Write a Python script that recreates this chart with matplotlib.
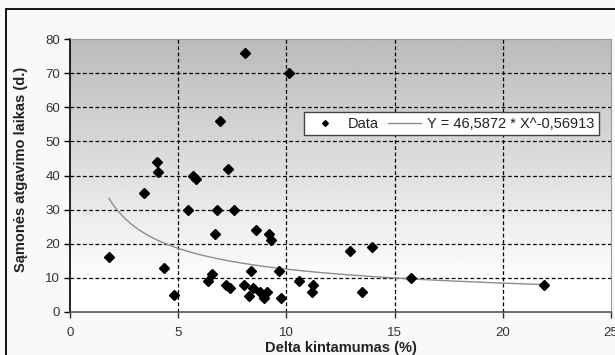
import numpy as np
import matplotlib
matplotlib.use("Agg")
import matplotlib.pyplot as plt
from matplotlib.patches import Rectangle

plt.rcParams['font.family'] = ['Liberation Sans', 'DejaVu Sans']

# duomenys
delta = [1.8, 3.4, 4.0, 4.05, 4.35, 4.8, 5.45, 5.7, 5.8, 6.4, 6.55, 6.7,
         6.8, 6.95, 7.2, 7.3, 7.4, 7.6, 8.05, 8.1, 8.25, 8.35, 8.45, 8.6,
         8.8, 8.95, 9.1, 9.2, 9.3, 9.65, 9.75, 10.1, 10.6, 11.2, 11.25,
         12.95, 13.5, 13.95, 15.75, 21.9]
laikas = [16, 35, 44, 41, 13, 5, 30, 40, 39, 9, 11, 23,
          30, 56, 8, 42, 7, 30, 8, 76, 4.7, 12, 7, 24,
          6, 4, 6, 23, 21, 12, 4, 70, 9, 6, 8,
          18, 6, 19, 10, 8]
a_koef = 46.5872
b_koef = -0.56913
x_ticks = [0, 5, 10, 15, 20, 25]
y_ticks = [0, 10, 20, 30, 40, 50, 60, 70, 80]

W, H = 615, 355
fig = plt.figure(figsize=(W / 100, H / 100), dpi=100)
fig.patch.set_facecolor('#f9f9f9')
fig.patches.append(Rectangle((6 / W, -0.2), 1.2, 1.2 - 9 / H,
                             transform=fig.transFigure, fill=False,
                             edgecolor='black', linewidth=1.3))

ax = fig.add_axes([70 / W, 1 - 312 / H, 541 / W, 273 / H])

# gradientas fone
grad = np.linspace(0, 1, 256).reshape(-1, 1)
grad = np.clip((grad - 0.1) / 0.9, 0, 1)
top, bot = 0.73, 1.0
vals = bot - (bot - top) * grad
ax.imshow(vals, cmap='gray', vmin=0, vmax=1, origin='lower', aspect='auto',
          extent=[0, 25, 0, 80], zorder=0)

for x in x_ticks[1:-1]:
    ax.axvline(x, color='black', linestyle=(0, (3, 2)), linewidth=0.9, zorder=1)
for y in y_ticks[1:-1]:
    ax.axhline(y, color='black', linestyle=(0, (3, 2)), linewidth=0.9, zorder=1)

xs = np.linspace(min(delta), max(delta), 200)
ax.plot(xs, a_koef * xs ** b_koef, color='#8c8c8c', linewidth=1.0,
        label='Y = 46,5872 * X^-0,56913', zorder=2)
ax.plot(delta, laikas, linestyle='none', marker='D', markersize=4.9,
        color='black', label='Data', zorder=3)

ax.set_xlim(0, 25)
ax.set_ylim(0, 80)
ax.set_xticks(x_ticks)
ax.set_yticks(y_ticks)
ax.tick_params(labelsize=9.5, colors='#333333', length=4, width=1, pad=3)
ax.tick_params(axis='y', color='black')
ax.tick_params(axis='x', pad=7)
for lab in ax.get_xticklabels() + ax.get_yticklabels():
    lab.set_clip_on(False)

ax.spines['left'].set_color('black')
ax.spines['left'].set_linewidth(1.2)
ax.spines['bottom'].set_color('#555555')
ax.spines['bottom'].set_linewidth(1.2)
ax.spines['top'].set_color('#999999')
ax.spines['right'].set_color('#999999')

ax.set_xlabel('Delta kintamumas (%)', fontsize=10.5, fontweight='bold', color='#222222')
ax.set_ylabel('Sąmonės atgavimo laikas (d.)', fontsize=10.5, fontweight='bold', color='#222222')
ax.xaxis.set_label_coords(0.5, -0.108)
ax.yaxis.set_label_coords(-0.078, 0.524)

handles, labels = ax.get_legend_handles_labels()
leg = ax.legend(handles[::-1], labels[::-1], ncol=2, loc='center',
                bbox_to_anchor=(0.705, 0.69), fontsize=10.5, frameon=True,
                fancybox=False, framealpha=1, edgecolor='#444444',
                handlelength=2.3, handletextpad=0.4, columnspacing=0.6,
                borderpad=0.3, markerscale=0.6)
leg.get_frame().set_linewidth(1.0)
for t in leg.get_texts():
    t.set_color('#222222')

fig.savefig('out.png', dpi=100, facecolor=fig.get_facecolor())
